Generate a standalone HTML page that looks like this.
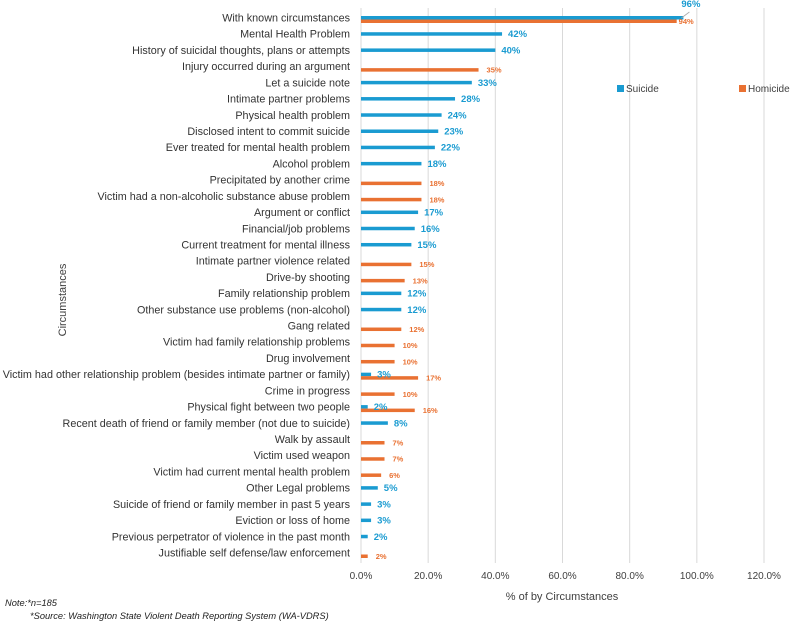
<!DOCTYPE html>
<html><head><meta charset="utf-8">
<style>
body{margin:0;background:#fff;font-family:"Liberation Sans",sans-serif;}
svg text{font-family:"Liberation Sans",sans-serif;}
</style></head>
<body>
<svg id="chart" width="795" height="622" xmlns="http://www.w3.org/2000/svg">
<g id="grid"></g><g id="bars"></g><g id="labels"></g>
<text transform="translate(66,300) rotate(-90)" text-anchor="middle" font-size="11" fill="#404040">Circumstances</text>
<text x="562" y="600" text-anchor="middle" font-size="11" fill="#404040">% of by Circumstances</text>
<g>
<rect x="617" y="85" width="7" height="7" fill="#1a9bd1"/>
<text x="626" y="92" font-size="10" fill="#404040">Suicide</text>
<rect x="739" y="85" width="7" height="7" fill="#e97132"/>
<text x="748" y="92" font-size="10" fill="#404040">Homicide</text>
</g>
<text x="5" y="606" font-size="9.3" font-style="italic" fill="#222">Note:*n=185</text>
<text x="30" y="619" font-size="9.3" font-style="italic" fill="#222">*Source: Washington State Violent Death Reporting System (WA-VDRS)</text>
</svg>
<script>
const categories=["With known circumstances","Mental Health Problem","History of suicidal thoughts, plans or attempts","Injury occurred during an argument","Let a suicide note","Intimate partner problems","Physical health problem","Disclosed intent to commit suicide","Ever treated for mental health problem","Alcohol problem","Precipitated by another crime","Victim had a non-alcoholic substance abuse problem","Argument or conflict","Financial/job problems","Current treatment for mental illness","Intimate partner violence related","Drive-by shooting","Family relationship problem","Other substance use problems (non-alcohol)","Gang related","Victim had family relationship problems","Drug involvement","Victim had other relationship problem (besides intimate partner or family)","Crime in progress","Physical fight between two people","Recent death of friend or family member (not due to suicide)","Walk by assault","Victim used weapon","Victim had current mental health problem","Other Legal problems","Suicide of friend or family member in past 5 years","Eviction or loss of home","Previous perpetrator of violence in the past month","Justifiable self defense/law enforcement"];
const suicide=[96,42,40,null,33,28,24,23,22,18,null,null,17,16,15,null,null,12,12,null,null,null,3,null,2,8,null,null,null,5,3,3,2,null];
const homicide=[94,null,null,35,null,null,null,null,null,null,18,18,null,null,null,15,13,null,null,12,10,10,17,10,16,null,7,7,6,null,null,null,null,2];
const xTicks=[0,20,40,60,80,100,120];
const NS="http://www.w3.org/2000/svg";
const x=v=>361+v*(764-361)/120;
const y=i=>18+i*(553-18)/(categories.length-1);
function mk(tag,attrs,parent,txt){const e=document.createElementNS(NS,tag);for(const k in attrs)e.setAttribute(k,attrs[k]);if(txt!=null)e.textContent=txt;document.getElementById(parent).appendChild(e);return e;}
xTicks.forEach(t=>{
 const l=mk('line',{x1:x(t),x2:x(t),y1:8,y2:563,stroke:'#d9d9d9','stroke-width':1},'grid');
 
 
 const tx=mk('text',{x:x(t),y:579,'text-anchor':'middle','font-size':10,fill:'#404040'},'grid',t.toFixed(1)+'%');
 
 
});
categories.forEach((c,i)=>{
 const cy=y(i);
 const lb=mk('text',{x:350,y:cy+3.5,'text-anchor':'end','font-size':10.8,fill:'#333'},'labels',c);
 
 
 const s=suicide[i],h=homicide[i];
 if(s!=null){
  const r=mk('rect',{x:x(0),y:cy-2,width:x(s)-x(0),height:3.5,fill:'#1a9bd1'},'bars');
  
  
  let lx=x(s)+6,ly=cy+3;
  if(i===0){lx=x(s)-2;ly=7;mk('line',{x1:x(s)-2,y1:18,x2:x(s)+6,y2:12,stroke:'#aaa','stroke-width':0.8},'labels');}
  const t=mk('text',{x:lx,y:ly,'font-size':9.5,'font-weight':'bold',fill:'#1a9bd1'},'labels',s+'%');
  
  
 }
 if(h!=null){
  const r=mk('rect',{x:x(0),y:cy+1.5,width:x(h)-x(0),height:3.5,fill:'#e97132'},'bars');
  
  
  let lx=x(h)+(i===0?2:8),ly=cy+6;
  const t=mk('text',{x:lx,y:ly,'font-size':7.5,'font-weight':'bold',fill:'#e97132'},'labels',h+'%');
  
  
 }
});
</script>
</body></html>
